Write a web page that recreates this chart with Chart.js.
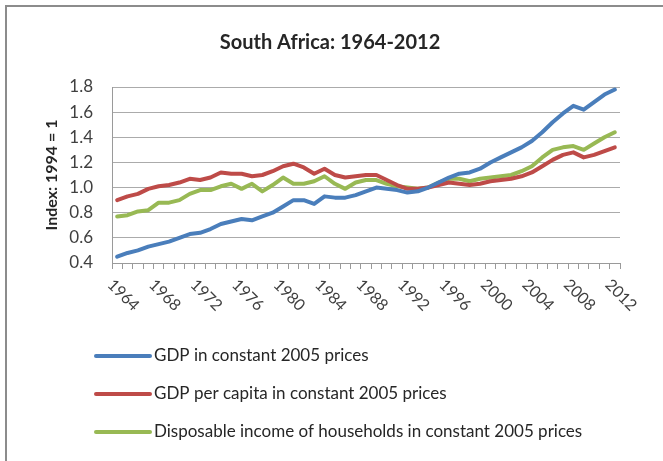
<!DOCTYPE html>
<html>
<head>
<meta charset="utf-8">
<script src="https://cdn.jsdelivr.net/npm/chart.js@4"></script>
<style>
    html, body { margin: 0; padding: 0; background: #fff; }
    #wrap { position: relative; width: 663px; height: 461px; overflow: hidden; }
    #frame { position: absolute; left: 5px; top: 5px; width: 700px; height: 500px;
             border-top: 2px solid #8c8c8c; border-left: 2px solid #8c8c8c; }
    canvas { position: absolute; left: 0; top: 0; }
</style>
</head>
<body>
<div id="wrap">
    <div id="frame"></div>
    <canvas id="chart" width="663" height="461"></canvas>
</div>
<script>
const years = ['1964', '1965', '1966', '1967', '1968', '1969', '1970', '1971', '1972', '1973',
    '1974', '1975', '1976', '1977', '1978', '1979', '1980', '1981', '1982', '1983',
    '1984', '1985', '1986', '1987', '1988', '1989', '1990', '1991', '1992', '1993',
    '1994', '1995', '1996', '1997', '1998', '1999', '2000', '2001', '2002', '2003',
    '2004', '2005', '2006', '2007', '2008', '2009', '2010', '2011', '2012'];

const xTickLabels = ['1964', '1968', '1972', '1976', '1980', '1984', '1988',
    '1992', '1996', '2000', '2004', '2008', '2012'];

const gdp = [0.45, 0.48, 0.50, 0.53, 0.55, 0.57, 0.60, 0.63, 0.64, 0.67,
    0.71, 0.73, 0.75, 0.74, 0.77, 0.80, 0.85, 0.90, 0.90, 0.87,
    0.93, 0.92, 0.92, 0.94, 0.97, 1.00, 0.99, 0.98, 0.96, 0.97,
    1.00, 1.04, 1.08, 1.11, 1.12, 1.15, 1.20, 1.24, 1.28, 1.32,
    1.37, 1.44, 1.52, 1.59, 1.65, 1.62, 1.68, 1.74, 1.78];

const gdpPerCapita = [0.90, 0.93, 0.95, 0.99, 1.01, 1.02, 1.04, 1.07, 1.06, 1.08,
    1.12, 1.11, 1.11, 1.09, 1.10, 1.13, 1.17, 1.19, 1.16, 1.11,
    1.15, 1.10, 1.08, 1.09, 1.10, 1.10, 1.06, 1.02, 0.99, 0.99,
    1.00, 1.02, 1.04, 1.03, 1.02, 1.03, 1.05, 1.06, 1.07, 1.09,
    1.12, 1.17, 1.22, 1.26, 1.28, 1.24, 1.26, 1.29, 1.32];

const disposableIncome = [0.77, 0.78, 0.81, 0.82, 0.88, 0.88, 0.90, 0.95, 0.98, 0.98,
    1.01, 1.03, 0.99, 1.03, 0.97, 1.02, 1.08, 1.03, 1.03, 1.05,
    1.09, 1.03, 0.99, 1.04, 1.06, 1.06, 1.03, 1.01, 1.00, 0.99,
    1.00, 1.04, 1.07, 1.07, 1.05, 1.07, 1.08, 1.09, 1.10, 1.13,
    1.17, 1.24, 1.30, 1.32, 1.33, 1.30, 1.35, 1.40, 1.44];

const seriesNames = ['GDP in constant 2005 prices',
    'GDP per capita in constant 2005 prices',
    'Disposable income of households in constant 2005 prices'];
const seriesColors = ['#4a7ebb', '#be4b48', '#98b954'];

const FONT = 'Lato, "Open Sans", sans-serif';

// rotated year labels (Excel style, reading downwards)
const xLabelPlugin = {
    id: 'xLabels',
    afterDraw(chart) {
        const { ctx } = chart;
        const x = chart.scales.x;
        ctx.save();
        ctx.font = '16px ' + FONT;
        ctx.fillStyle = '#404040';
        ctx.textAlign = 'left';
        ctx.textBaseline = 'middle';
        years.forEach((yr, i) => {
            if (!xTickLabels.includes(yr)) return;
            const px = x.getPixelForValue(i);
            ctx.save();
            ctx.translate(px - 7, x.top + 19);
            ctx.rotate(Math.PI / 4);
            ctx.fillText(yr, 0, 0);
            ctx.restore();
        });
        ctx.restore();
    }
};

// stacked legend below the axis
const legendPlugin = {
    id: 'stackLegend',
    afterDraw(chart) {
        const { ctx } = chart;
        ctx.save();
        ctx.font = '17px ' + FONT;
        ctx.textBaseline = 'middle';
        ctx.textAlign = 'left';
        chart.data.datasets.forEach((ds, i) => {
            const y = 356 + i * 38;
            ctx.strokeStyle = ds.borderColor;
            ctx.lineWidth = 4;
            ctx.lineCap = 'round';
            ctx.beginPath();
            ctx.moveTo(96, y);
            ctx.lineTo(150, y);
            ctx.stroke();
            ctx.fillStyle = '#262626';
            ctx.fillText(ds.label, 154, y);
        });
        ctx.restore();
    }
};

const ctx = document.getElementById('chart').getContext('2d');
new Chart(ctx, {
    type: 'line',
    data: {
        labels: years,
        datasets: [gdp, gdpPerCapita, disposableIncome].map((d, i) => ({
            label: seriesNames[i],
            data: d,
            borderColor: seriesColors[i],
            backgroundColor: seriesColors[i],
            borderWidth: 4,
            pointRadius: 0,
            tension: 0,
            borderCapStyle: 'round',
            borderJoinStyle: 'round'
        }))
    },
    options: {
        responsive: false,
        animation: false,
        layout: { padding: { left: 40, right: 43, top: 0, bottom: 138 } },
        plugins: {
            legend: { display: false },
            tooltip: { enabled: false },
            title: {
                display: true,
                text: 'South Africa: 1964-2012',
                color: '#262626',
                font: { family: FONT, size: 20, weight: 'bold', lineHeight: 1.2 },
                padding: { top: 31, bottom: 32 }
            }
        },
        scales: {
            x: {
                offset: true,
                grid: { offset: true, drawOnChartArea: false, drawTicks: true, tickLength: 6, color: '#9a9a9a' },
                border: { display: true, color: '#9a9a9a' },
                ticks: { display: false },
                afterFit: s => { s.height = 60; }
            },
            y: {
                min: 0.4,
                max: 1.8,
                grid: { color: '#ababab', drawTicks: false },
                border: { display: true, color: '#9a9a9a' },
                ticks: {
                    stepSize: 0.2,
                    padding: 19,
                    color: '#404040',
                    font: { family: FONT, size: 17 },
                    callback: v => v.toFixed(1)
                },
                title: {
                    display: true,
                    text: 'Index: 1994 = 1',
                    color: '#262626',
                    font: { family: FONT, size: 16, weight: 'bold' },
                    padding: { top: 2, bottom: 0 }
                },
                afterFit: s => { s.width = 72; }
            }
        }
    },
    plugins: [xLabelPlugin, legendPlugin]
});
</script>
</body>
</html>
